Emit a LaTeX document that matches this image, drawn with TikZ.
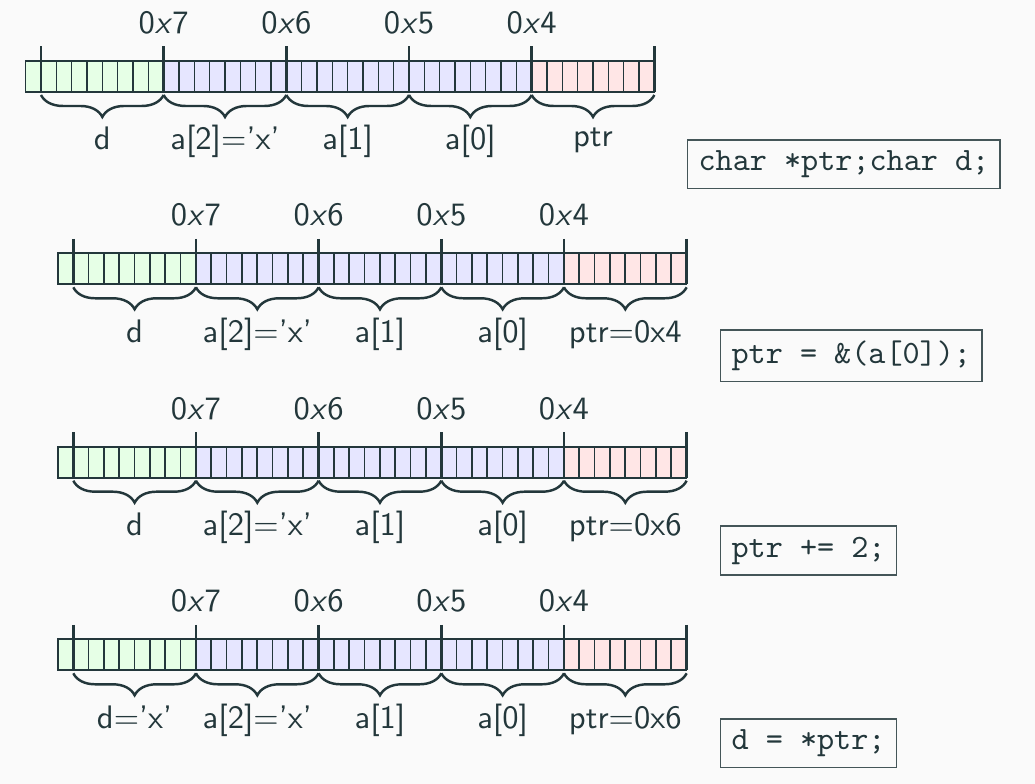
\documentclass[tikz,border=0pt]{standalone}
\usetikzlibrary{decorations.pathreplacing}

\definecolor{fg}{HTML}{23373B}
\definecolor{bg}{HTML}{FAFAFA}
\definecolor{dbyte}{HTML}{E6FFE6}
\definecolor{abyte}{HTML}{E6E6FF}
\definecolor{pbyte}{HTML}{FFE6E6}

\begin{document}
\begin{tikzpicture}[x=0.307pt, y=-0.307pt,
  bitcell/.style={draw=fg, line width=0.5pt},
  bytetick/.style={draw=fg, line width=0.75pt},
  membrace/.style={draw=fg, line width=0.75pt, decorate,
    decoration={brace, mirror, amplitude=6.75pt}},
  hexlabel/.style={anchor=base, text=fg, font=\sffamily, inner sep=0pt},
  varlabel/.style={anchor=base, text=fg, font=\sffamily, inner sep=0pt},
  codebox/.style={draw=fg!85, line width=0.45pt, anchor=west, text=fg,
    font=\ttfamily, fill=bg}
]
% page
\fill[bg] (0,0) rectangle (1035,784);
\useasboundingbox (0,0) rectangle (1035,784);

% one memory row per step: r = row, T = top of the bit cells, L = first byte boundary
\foreach \r/\T/\L/\dtxt/\ptxt/\pdy in {
    1/61/41/{d}/{ptr}/-3,
    2/253.3/73.3/{d}/{ptr=0x4}/0,
    3/446.7/73.3/{d}/{ptr=0x6}/0,
    4/639.3/73.3/{d='x'}/{ptr=0x6}/0} {
  % byte backgrounds
  \fill[dbyte] (\L-15.333,\T) rectangle (\L+122.667,\T+31);
  \fill[abyte] (\L+122.667,\T) rectangle (\L+490.667,\T+31);
  \fill[pbyte] (\L+490.667,\T) rectangle (\L+613.333,\T+31);
  % individual bits
  \foreach \i in {0,...,40}
    \draw[bitcell] (\L+\i*15.333-15.333,\T) rectangle ++(15.333,31);
  % byte boundaries
  \foreach \k in {0,...,5} {
    \draw[bytetick] (\L+\k*122.667,\T-14.5) -- (\L+\k*122.667,\T+31);
    \coordinate (b\r-\k) at (\L+\k*122.667,\T+34);
  }
  % addresses
  \foreach \k/\h in {1/7,2/6,3/5,4/4}
    \node[hexlabel] (h\r-\k) at (\L+\k*122.667,\T-27.5) {0\textit{x}\h};
  % braces under each byte
  \foreach \k in {0,...,4} {
    \pgfmathtruncatemacro\kn{\k+1}
    \draw[membrace] (b\r-\k) -- (b\r-\kn);
  }
  % variable names
  \node[varlabel] (v\r-0) at (\L+61.333,\T+89) {\dtxt};
  \node[varlabel] (v\r-1) at (\L+184,\T+89) {a[2]='x'};
  \node[varlabel] (v\r-2) at (\L+306.667,\T+89) {a[1]};
  \node[varlabel] (v\r-3) at (\L+429.333,\T+89) {a[0]};
  \node[varlabel] (v\r-4) at (\L+552,\T+89+\pdy) {\ptxt};
}

% the statement executed at each step
\node[codebox] (c1) at (687,164.3) {char *ptr;char d;};
\node[codebox] (c2) at (720,355.8) {ptr = \&(a[0]);};
\node[codebox] (c3) at (720,550.5) {ptr += 2;};
\node[codebox] (c4) at (720,743.3) {d = *ptr;};
\end{tikzpicture}
\end{document}
